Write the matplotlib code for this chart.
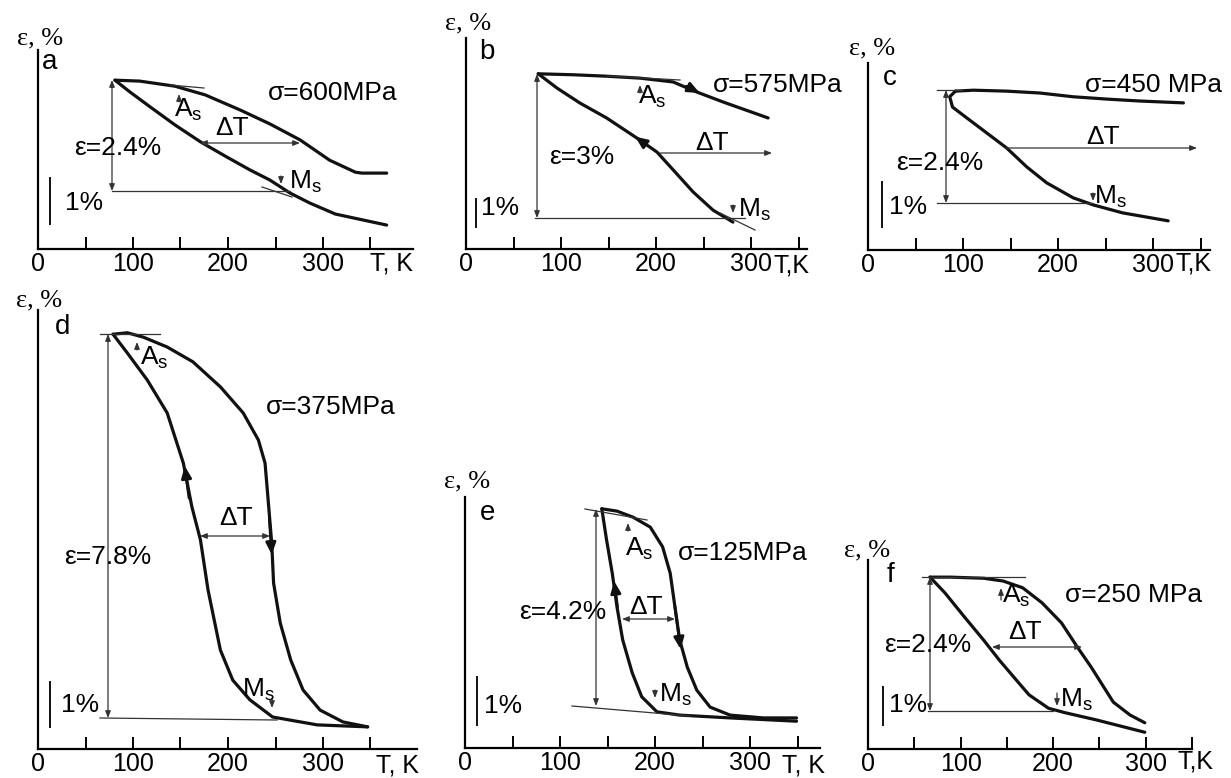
import numpy as np
import matplotlib
matplotlib.use("Agg")
import matplotlib.pyplot as plt
from matplotlib.lines import Line2D

plt.rcParams['font.family'] = ['Liberation Sans', 'DejaVu Sans']
plt.rcParams['mathtext.fontset'] = 'custom'
plt.rcParams['mathtext.rm'] = 'Liberation Sans'
plt.rcParams['mathtext.default'] = 'rm'

W, H = 1231, 778

# ---------------- data (T in K, strain in %) ----------------
a_up_T = [81, 107, 144, 176, 213, 244, 276, 307, 334, 341, 367]
a_up_e = [3.67, 3.65, 3.54, 3.35, 3.02, 2.72, 2.37, 1.93, 1.67, 1.65, 1.65]
a_lo_T = [81, 97, 118, 144, 171, 197, 223, 244, 265, 286, 313, 367]
a_lo_e = [3.67, 3.41, 3.09, 2.70, 2.33, 2.02, 1.72, 1.50, 1.22, 1.00, 0.76, 0.52]

b_up_T = [76, 113, 148, 183, 218, 243, 271, 318]
b_up_e = [3.65, 3.63, 3.60, 3.56, 3.48, 3.27, 3.06, 2.73]
b_lo_T = [76, 96, 120, 148, 180, 201, 218, 239, 260, 281]
b_lo_e = [3.65, 3.35, 3.04, 2.73, 2.31, 2.02, 1.65, 1.19, 0.81, 0.56]

c_up_T = [92, 111, 146, 181, 216, 252, 286, 332]
c_up_e = [3.38, 3.40, 3.38, 3.34, 3.26, 3.21, 3.17, 3.13]
c_lo_T = [92, 86, 89, 104, 125, 146, 167, 188, 216, 237, 268, 316]
c_lo_e = [3.38, 3.26, 3.04, 2.81, 2.49, 2.17, 1.77, 1.43, 1.11, 0.96, 0.79, 0.62]

d_up_T = [79, 94, 111, 136, 163, 192, 216, 232, 239, 242, 246, 248, 255, 266, 279, 297, 321, 347]
d_up_e = [8.43, 8.46, 8.37, 8.17, 7.87, 7.36, 6.83, 6.28, 5.81, 5.12, 4.19, 3.37, 2.56, 1.81, 1.20, 0.79, 0.55, 0.45]
d_lo_T = [79, 94, 115, 136, 153, 162, 171, 179, 192, 205, 223, 247, 294, 347]
d_lo_e = [8.43, 8.05, 7.50, 6.83, 5.81, 4.92, 4.25, 3.23, 2.01, 1.40, 1.00, 0.65, 0.49, 0.45]

e_up_T = [144, 160, 177, 195, 208, 216, 221, 226, 234, 244, 258, 279, 314, 349]
e_up_e = [5.09, 5.04, 4.91, 4.70, 4.28, 3.72, 3.00, 2.30, 1.72, 1.23, 0.87, 0.70, 0.64, 0.64]
e_lo_T = [144, 149, 155, 160, 166, 176, 186, 202, 226, 279, 349]
e_lo_e = [5.09, 4.43, 3.72, 3.00, 2.30, 1.60, 1.09, 0.77, 0.70, 0.64, 0.57]

f_up_T = [67, 89, 125, 146, 167, 188, 209, 226, 241, 252, 265, 283, 299]
f_up_e = [3.08, 3.08, 3.06, 3.01, 2.89, 2.62, 2.26, 1.83, 1.47, 1.18, 0.84, 0.61, 0.47]
f_lo_T = [67, 83, 104, 125, 142, 160, 174, 195, 213, 247, 299]
f_lo_e = [3.08, 2.80, 2.37, 1.95, 1.59, 1.24, 0.97, 0.73, 0.65, 0.52, 0.30]

tick_vals = [0, 50, 100, 150, 200, 250, 300, 350]
tick_labels = ['0', '', '100', '', '200', '', '300', '']

# ---------------- layout (pixel) ----------------
panels = {
    'a': (38, 249, 413, 50, 0.95, 46.0),
    'b': (466, 249, 807, 38, 0.95, 48.0),
    'c': (868, 250, 1210, 63, 0.95, 47.0),
    'd': (38, 749, 417, 310, 0.95, 49.2),
    'e': (465, 748, 820, 497, 0.95, 47.0),
    'f': (868, 749, 1192, 560, 0.95, 55.8),
}
curves = {
    'a': [(a_up_T, a_up_e), (a_lo_T, a_lo_e)],
    'b': [(b_up_T, b_up_e), (b_lo_T, b_lo_e)],
    'c': [(c_up_T, c_up_e), (c_lo_T, c_lo_e)],
    'd': [(d_up_T, d_up_e), (d_lo_T, d_lo_e)],
    'e': [(e_up_T, e_up_e), (e_lo_T, e_lo_e)],
    'f': [(f_up_T, f_up_e), (f_lo_T, f_lo_e)],
}

TS = 19  # annotation text size
fig = plt.figure(figsize=(W / 100, H / 100), dpi=100)
axes = {}
for k, (x0, y0, xe, yt, sx, sy) in panels.items():
    ax = fig.add_axes([x0 / W, 1 - y0 / H, (xe - x0) / W, (y0 - yt) / H])
    ax.set_xlim(0, (xe - x0) / sx)
    ax.set_ylim(0, (y0 - yt) / sy)
    for s in ('top', 'right'):
        ax.spines[s].set_visible(False)
    for s in ('left', 'bottom'):
        ax.spines[s].set_linewidth(1.6)
    ax.set_yticks([])
    ax.set_xticks(tick_vals)
    ax.set_xticklabels(tick_labels, fontsize=18)
    ax.tick_params(axis='x', direction='in', length=9, width=1.4, pad=2)
    ax.patch.set_alpha(0)
    for T, e in curves[k]:
        ax.plot(T, e, color='#111111', lw=2.3, solid_capstyle='round', solid_joinstyle='round')
    axes[k] = ax


def txt(x, y, s, size=TS, ha='center', va='center', family=None):
    kw = {}
    if family:
        kw['family'] = family
    fig.text(x / W, 1 - y / H, s, fontsize=size, ha=ha, va=va, **kw)


def line(x1, y1, x2, y2, lw=0.9, c='#333333'):
    fig.add_artist(Line2D([x1 / W, x2 / W], [1 - y1 / H, 1 - y2 / H], lw=lw, color=c,
                          transform=fig.transFigure))


def arr(x1, y1, x2, y2, style='<|-|>'):
    fig.add_artist(matplotlib.patches.FancyArrowPatch(
        (x1 / W, 1 - y1 / H), (x2 / W, 1 - y2 / H), transform=fig.transFigure,
        arrowstyle=style + ',head_length=4,head_width=1.6', lw=0.9, color='#333333',
        shrinkA=0, shrinkB=0))


def curve_arrow(ax, p_from, p_to):
    ax.annotate('', xy=p_to, xytext=p_from,
                arrowprops=dict(arrowstyle='-|>,head_length=0.7,head_width=0.3',
                                color='#111111', lw=2.0, shrinkA=0, shrinkB=0))


def small_arrow(x, y1, y2):
    arr(x, y1, x, y2, style='-|>')


SER = ['Liberation Serif', 'DejaVu Serif']
SS = 19
AS = r'A$_{\mathregular{s}}$'
MS = r'M$_{\mathregular{s}}$'

# ---- panel a ----
txt(40, 38, 'ε, %', SS, family=SER)
txt(50, 62, 'a', 20)
txt(333, 93, 'σ=600MPa')
txt(188, 110, AS); small_arrow(179, 102, 94)
txt(232, 128, 'ΔT')
txt(118, 148, 'ε=2.4%')
txt(305, 182, MS); small_arrow(281, 176, 184)
line(50, 178, 50, 224, lw=1.4, c='#111111'); txt(84, 203, '1%')
line(112, 191, 290, 191)
arr(112, 80, 112, 191)
arr(200, 143, 300, 143)
line(170, 85, 204, 88)
line(262, 187, 292, 197)
txt(392, 264, 'T, K', 18)

# ---- panel b ----
txt(468, 23, 'ε, %', SS, family=SER)
txt(487, 52, 'b', 20)
txt(713, 85, 'σ=575MPa', ha='left')
txt(652, 97, AS); small_arrow(640, 93, 85)
txt(712, 143, 'ΔT')
txt(582, 157, 'ε=3%')
txt(754, 210, MS); small_arrow(733, 205, 213)
line(476, 199, 476, 227, lw=1.4, c='#111111'); txt(500, 208, '1%')
line(535, 218, 745, 218)
arr(537, 74, 537, 218)
arr(660, 153, 772, 153, style='-|>')
line(607, 76, 680, 80)
line(720, 213, 755, 230)
txt(791, 265, 'T,K', 18)
curve_arrow(axes['b'], (232, 3.39), (246, 3.25))
curve_arrow(axes['b'], (190, 2.17), (178, 2.34))

# ---- panel c ----
txt(872, 48, 'ε, %', SS, family=SER)
txt(890, 78, 'c', 20)
txt(1085, 85, 'σ=450 MPa', ha='left')
txt(1103, 137, 'ΔT')
txt(940, 163, 'ε=2.4%')
txt(1110, 197, MS); small_arrow(1093, 193, 201)
line(882, 182, 882, 227, lw=1.4, c='#111111'); txt(908, 207, '1%')
line(937, 203, 1093, 203)
arr(946, 90, 946, 203)
arr(1005, 148, 1197, 148, style='-|>')
line(937, 90, 962, 90)
txt(1193, 264, 'T,K', 18)

# ---- panel d ----
txt(39, 300, 'ε, %', SS, family=SER)
txt(63, 327, 'd', 20)
txt(266, 407, 'σ=375MPa', ha='left')
txt(154, 358, AS); small_arrow(137, 350, 342)
txt(236, 518, 'ΔT')
txt(108, 557, 'ε=7.8%')
txt(258, 690, MS); small_arrow(272, 698, 708)
line(50, 682, 50, 727, lw=1.4, c='#111111'); txt(80, 705, '1%')
line(100, 718, 277, 720)
arr(108, 334, 108, 718)
arr(200, 536, 270, 536)
line(100, 334, 160, 334)
txt(397, 766, 'T, K', 18)
curve_arrow(axes['d'], (159, 5.1), (154.5, 5.75))
curve_arrow(axes['d'], (243.5, 4.7), (246, 3.95))

# ---- panel e ----
txt(467, 481, 'ε, %', SS, family=SER)
txt(488, 513, 'e', 20)
txt(678, 553, 'σ=125MPa', ha='left')
txt(639, 549, AS); small_arrow(628, 531, 523)
txt(646, 607, 'ΔT')
txt(563, 612, 'ε=4.2%')
txt(675, 695, MS); small_arrow(655, 690, 698)
line(477, 677, 477, 725, lw=1.4, c='#111111'); txt(503, 706, '1%')
line(572, 706, 690, 716)
arr(596, 509, 596, 706)
arr(622, 619, 675, 619)
line(585, 509, 647, 520)
txt(803, 766, 'T, K', 18)
curve_arrow(axes['e'], (160.5, 3.0), (157, 3.55))
curve_arrow(axes['e'], (221, 3.0), (227, 2.1))

# ---- panel f ----
txt(867, 550, 'ε, %', SS, family=SER)
txt(890, 575, 'f', 20)
txt(1065, 595, 'σ=250 MPa', ha='left')
txt(1016, 596, AS); small_arrow(1001, 600, 588)
txt(1025, 632, 'ΔT')
txt(928, 645, 'ε=2.4%')
txt(1076, 700, MS); small_arrow(1057, 693, 706)
line(883, 687, 883, 725, lw=1.4, c='#111111'); txt(908, 705, '1%')
line(928, 711, 1053, 711)
arr(930, 577, 930, 711)
arr(992, 647, 1082, 647)
line(922, 577, 1025, 577)
txt(1195, 762, 'T,K', 18)

fig.savefig('out.png', dpi=100)
